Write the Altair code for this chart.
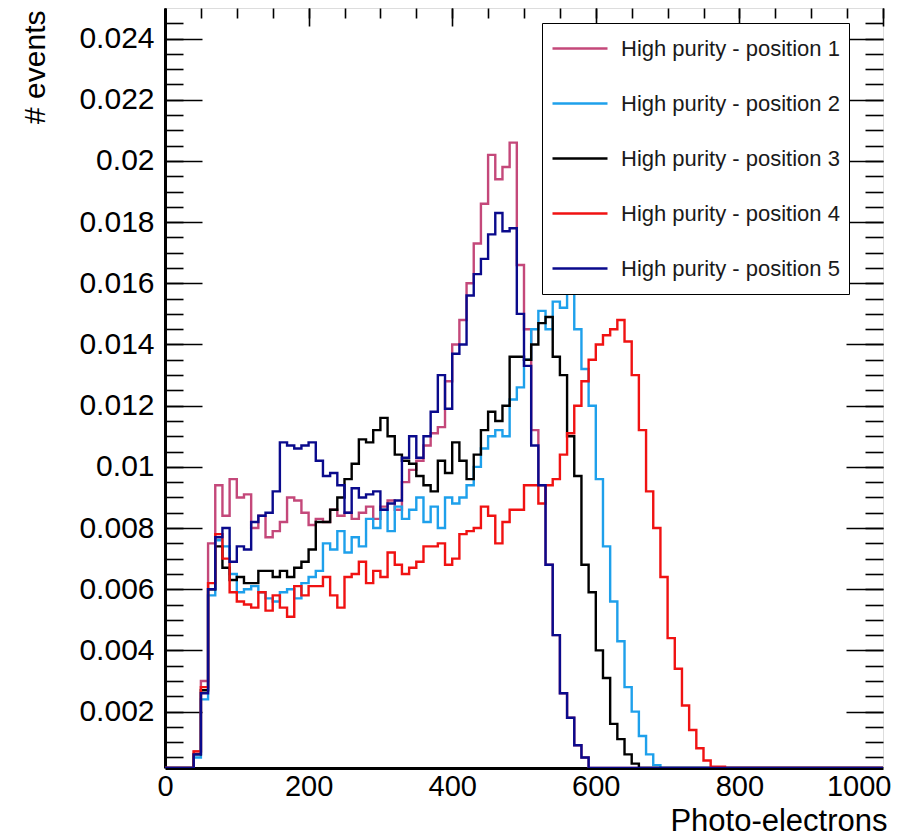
import altair as alt
import pandas as pd

# ---------------- data (values in units of 1e-3, 10-unit bins starting at 40) ----------------
BIN_WIDTH = 10
FIRST_EDGE = 40
X_MAX = 1000

series_names = [
    "High purity - position 1",
    "High purity - position 2",
    "High purity - position 3",
    "High purity - position 4",
    "High purity - position 5",
]
series_colors = ["#c4487a", "#1ea0eb", "#000000", "#f01212", "#0a0a8c"]

pos1 = [0.7, 3.0, 7.5, 9.4, 8.4, 9.6, 9.0, 9.1, 8.0, 8.4, 7.7, 7.9, 8.2, 9.0, 8.9, 8.5,
        8.1, 8.3, 8.2, 8.6, 8.4, 8.5, 8.3, 8.5, 8.7, 8.3, 8.7, 8.9, 8.6, 9.5, 9.9, 10.2,
        10.7, 11.1, 11.3, 12.8, 14.0, 14.8, 16.0, 17.3, 18.6, 20.2, 19.4, 19.8, 20.6, 16.6,
        14.5, 11.2, 9.4, 6.8, 4.5, 2.6, 1.8, 0.9, 0.5, 0.1]

pos2 = [0.5, 2.4, 5.8, 7.6, 7.4, 6.5, 5.9, 6.0, 6.1, 5.9, 5.7, 5.6, 5.9, 6.0, 5.7, 6.2,
        6.4, 6.6, 7.5, 7.3, 7.9, 7.2, 7.7, 7.4, 8.3, 8.0, 8.6, 7.9, 8.7, 8.3, 8.6, 9.0,
        8.2, 8.7, 8.0, 9.0, 8.8, 9.0, 9.4, 10.0, 10.6, 11.0, 11.2, 11.0, 12.2, 12.6, 13.5,
        14.5, 15.1, 14.5, 15.4, 15.2, 15.7, 14.5, 13.2, 12.0, 9.6, 7.4, 5.6, 4.3, 2.8, 2.0,
        1.2, 0.6, 0.25, 0.1]

pos3 = [0.6, 2.7, 6.0, 7.4, 6.7, 6.3, 6.4, 6.2, 6.2, 6.6, 6.6, 6.4, 6.6, 6.4, 6.7, 6.9,
        7.3, 8.2, 8.2, 8.6, 9.0, 9.6, 10.1, 10.9, 10.8, 11.2, 11.6, 11.0, 10.4, 10.2, 10.1,
        9.7, 9.4, 9.2, 10.2, 9.8, 10.8, 10.2, 9.6, 10.4, 11.2, 11.8, 11.5, 12.0, 13.6, 13.6,
        13.5, 14.0, 14.7, 14.9, 13.6, 13.0, 11.0, 9.7, 6.8, 5.9, 4.0, 3.1, 1.6, 1.1, 0.6, 0.3]

pos4 = [0.7, 2.8, 6.2, 7.8, 7.0, 5.9, 5.6, 5.5, 5.4, 5.9, 5.3, 5.8, 5.4, 5.1, 6.1, 5.8,
        6.1, 6.1, 6.4, 5.8, 5.4, 6.4, 6.5, 6.9, 6.2, 6.6, 6.4, 7.2, 6.8, 6.5, 6.7, 6.9,
        7.4, 7.4, 7.5, 6.8, 7.0, 7.8, 7.9, 8.0, 8.7, 8.4, 7.5, 8.2, 8.6, 8.6, 9.4, 9.4,
        8.8, 9.4, 9.6, 10.4, 11.1, 12.0, 12.8, 13.5, 14.0, 14.3, 14.5, 14.8, 14.1, 13.0,
        11.2, 9.2, 8.0, 6.4, 4.4, 3.4, 2.2, 1.4, 0.8, 0.4, 0.2, 0.2]

pos5 = [0.6, 2.6, 6.0, 7.7, 8.0, 6.9, 7.4, 7.3, 8.2, 8.4, 8.5, 9.2, 10.8, 10.7, 10.6, 10.7,
        10.8, 10.2, 9.7, 9.8, 9.4, 8.5, 9.3, 9.0, 9.1, 9.2, 8.6, 8.8, 8.9, 10.3, 11.0, 10.3,
        11.0, 11.8, 13.0, 11.9, 13.7, 14.0, 15.6, 16.3, 16.8, 17.6, 18.3, 17.7, 17.8, 15.0,
        13.3, 10.7, 9.4, 6.8, 4.5, 2.6, 1.8, 0.9, 0.5]

# axis tick values
y_major = [0.002, 0.004, 0.006, 0.008, 0.010, 0.012, 0.014, 0.016, 0.018, 0.020, 0.022, 0.024]
y_minor = [round(0.0005 * k, 4) for k in range(1, 50)]
x_major = [0, 200, 400, 600, 800, 1000]
x_minor = list(range(0, 1001, 50))

Y_MIN = 0.000156
Y_MAX = 0.025

# ---------------- build table ----------------
rows = []
for name, vals in zip(series_names, [pos1, pos2, pos3, pos4, pos5]):
    full = [0.0] * (FIRST_EDGE // BIN_WIDTH) + list(vals)
    full += [0.0] * (X_MAX // BIN_WIDTH - len(full))
    for i, v in enumerate(full):
        rows.append({"series": name, "pe": i * BIN_WIDTH, "v": v * 1e-3})
    rows.append({"series": name, "pe": X_MAX, "v": full[-1] * 1e-3})
df = pd.DataFrame(rows)

FONT = "Liberation Sans"
xs = alt.Scale(domain=[0, X_MAX], nice=False, zero=False)
ys = alt.Scale(domain=[Y_MIN, Y_MAX], nice=False, zero=False, clamp=True)

tick_style = dict(grid=True, gridColor="black", gridOpacity=1, gridWidth=1.6,
                  ticks=False)
blank = dict(labels=False, domain=False, title=None)

ax_x_major = alt.Axis(
    values=x_major, orient="bottom", format="d", gridDash=[18, 3000], **tick_style,
    domain=True, domainColor="black", domainWidth=3,
    labelFont=FONT, labelFontSize=29, labelColor="black", labelPadding=4,
    labelOverlap=False, labelFlush=False,
    labelAlign={"condition": {"test": "datum.value == 1000", "value": "right"}, "value": "center"},
    labelOffset={"condition": {"test": "datum.value == 1000", "value": 8}, "value": 0},
    title="Photo-electrons", titleFont=FONT, titleFontSize=31, titleFontWeight="normal",
    titleColor="black", titleAnchor="end", titleAlign="right", titleBaseline="alphabetic",
    titleX=722, titleY=62,
)
ax_y_major = alt.Axis(
    values=y_major, orient="left", format="~f", gridDash=[37, 3000], **tick_style,
    domain=True, domainColor="black", domainWidth=3,
    labelFont=FONT, labelFontSize=30, labelColor="black", labelPadding=11,
    labelOverlap=False,
    title="# events", titleFont=FONT, titleFontSize=30, titleFontWeight="normal",
    titleColor="black", titleAlign="right", titleBaseline="alphabetic",
    titleX=-121, titleY=2, titleAngle=270,
)
ax_x_minor = alt.Axis(values=x_minor, orient="bottom", gridDash=[10, 3000], **tick_style, **blank)
ax_y_minor = alt.Axis(values=y_minor, orient="left", gridDash=[18, 3000], **tick_style, **blank)
ax_y_right = alt.Axis(values=y_major, orient="right", gridDash=[37, 3000], **tick_style, **blank)
ax_y_right_minor = alt.Axis(values=y_minor, orient="right", gridDash=[18, 3000], **tick_style, **blank)

legend = alt.Legend(
    title=None, orient="none", legendX=377, legendY=15,
    fillColor="white", strokeColor="black", padding=9,
    symbolType="stroke", symbolSize=3025, symbolStrokeWidth=2.4,
    clipHeight=33, rowPadding=22, labelOffset=12, labelLimit=500,
    labelFont=FONT, labelFontSize=22, labelColor="#1a1a1a",
)

lines = alt.Chart(df).mark_line(interpolate="step-after", strokeWidth=2.4, clip=True).encode(
    x=alt.X("pe:Q", scale=xs, axis=ax_x_major),
    y=alt.Y("v:Q", scale=ys, axis=ax_y_major),
    color=alt.Color("series:N", scale=alt.Scale(domain=series_names, range=series_colors),
                    legend=legend),
)

small = df.iloc[:1]
def tick_layer(ax_x, ax_y):
    return alt.Chart(small).mark_point(opacity=0, size=1).encode(
        x=alt.X("pe:Q", scale=xs, axis=ax_x),
        y=alt.Y("v:Q", scale=ys, axis=ax_y),
    )

chart = alt.layer(
    lines,
    tick_layer(ax_x_minor, ax_y_minor),
    tick_layer(None, ax_y_right),
    tick_layer(None, ax_y_right_minor),
).resolve_axis(x="independent", y="independent").properties(
    width=718, height=760,
    autosize=alt.AutoSizeParams(type="none"),
    padding={"left": 157, "top": 0, "right": 27, "bottom": 68},
).configure_view(stroke="black", strokeWidth=2).configure(font=FONT)

chart.save("out.html", embed_options={"renderer": "svg", "actions": False})
